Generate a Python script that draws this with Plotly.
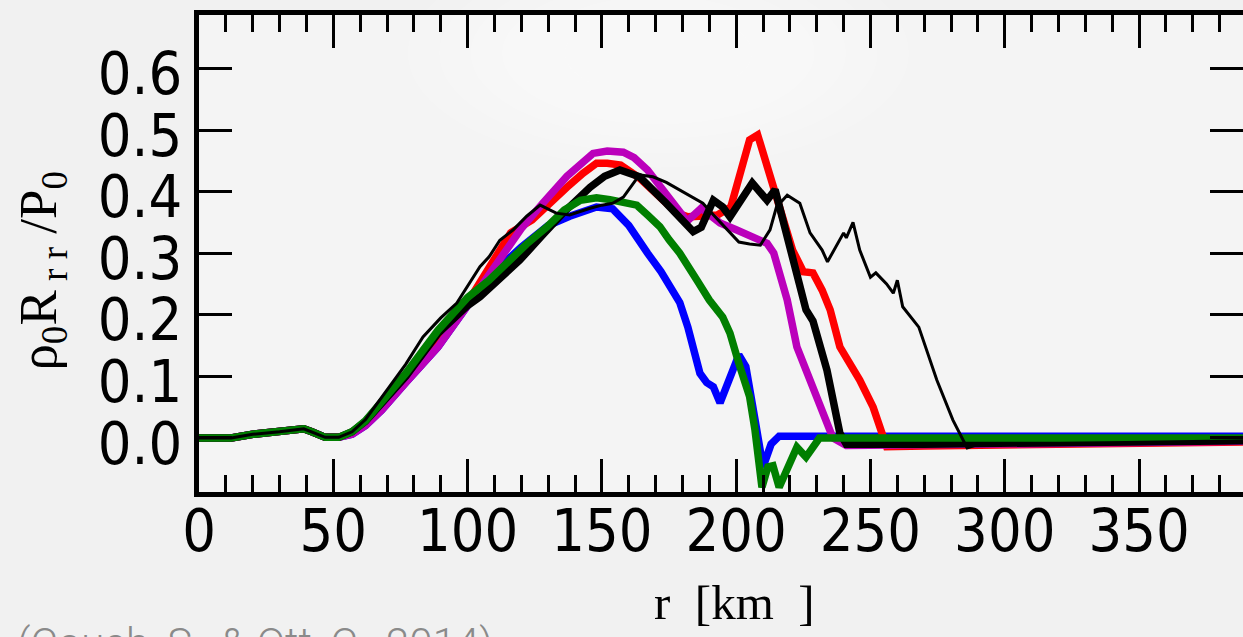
import plotly.graph_objects as go

# ---------------- data ----------------
blue_r = [0, 12, 20, 30, 39, 42, 47, 52, 57, 62, 68, 77, 89, 100, 110, 120, 130, 138, 148, 154, 160, 167,
          172, 179, 182, 186.5, 189, 191.5, 194, 201, 203.6, 207, 210, 213, 216, 230, 300, 395]
blue_y = [0, 0, 0.006, 0.01, 0.015, 0.01, 0.001, 0.001, 0.006, 0.02, 0.045, 0.09, 0.148, 0.215, 0.27, 0.31,
          0.345, 0.36, 0.375, 0.372, 0.345, 0.3, 0.27, 0.22, 0.18, 0.105, 0.09, 0.083, 0.057, 0.135, 0.116,
          0.03, -0.047, -0.01, 0.003, 0.003, 0.003, 0.003]

red_r = [0, 12, 20, 30, 39, 42, 47, 52, 57, 62, 68, 77, 89, 100, 110, 116, 124, 130, 137, 143, 148, 152, 157,
         164, 172, 178, 182, 188, 193, 198, 201, 205, 208, 212.6, 216, 221, 225, 228.6, 232, 235, 238.6, 242,
         246, 251, 256, 270, 320, 395]
red_y = [0, 0, 0.006, 0.01, 0.015, 0.01, 0.001, 0.001, 0.008, 0.024, 0.05, 0.095, 0.155, 0.22, 0.29, 0.333,
         0.354, 0.38, 0.407, 0.43, 0.446, 0.446, 0.443, 0.422, 0.391, 0.365, 0.359, 0.36, 0.362, 0.375, 0.419,
         0.484, 0.492, 0.424, 0.37, 0.305, 0.27, 0.268, 0.24, 0.208, 0.148, 0.125, 0.094, 0.05, -0.014, -0.013,
         -0.01, -0.006]

magenta_r = [0, 12, 20, 30, 39, 42, 47, 52, 57, 62, 68, 77, 89, 100, 110, 120, 128, 137, 146.7, 152, 158, 162,
             167, 172, 177, 181.7, 187, 194, 200, 207.7, 211.5, 214, 216, 219, 222.6, 228.6, 233, 236, 241, 270,
             320, 395]
magenta_y = [0, 0, 0.006, 0.01, 0.015, 0.01, 0.001, 0.001, 0.006, 0.02, 0.045, 0.09, 0.148, 0.215, 0.28, 0.34,
             0.381, 0.425, 0.462, 0.466, 0.464, 0.455, 0.435, 0.407, 0.375, 0.352, 0.373, 0.349, 0.338, 0.325,
             0.316, 0.3, 0.273, 0.224, 0.148, 0.078, 0.03, 0.0, -0.012, -0.012, -0.009, -0.005]

black_r = [0, 12, 20, 30, 39, 42, 47, 52, 57, 62, 68, 77, 89, 100, 104.6, 112, 119.5, 128, 135.5, 145.6, 151,
           156.7, 164, 174, 184, 187, 191.5, 195, 197.7, 206, 209, 211.5, 214.5, 219, 222.6, 226, 228.6, 233.8,
           238.6, 241, 270, 320, 395]
black_y = [0, 0, 0.006, 0.01, 0.015, 0.01, 0.001, 0.001, 0.01, 0.027, 0.055, 0.1, 0.17, 0.215, 0.229, 0.26,
           0.289, 0.33, 0.365, 0.407, 0.425, 0.435, 0.424, 0.381, 0.335, 0.342, 0.386, 0.375, 0.359, 0.414,
           0.398, 0.386, 0.403, 0.326, 0.273, 0.208, 0.19, 0.11, 0.008, -0.01, -0.01, -0.008, -0.004]

green_r = [0, 12, 20, 30, 39, 42, 47, 52, 57, 62, 68, 77, 89, 100, 108, 116, 122, 129.6, 136, 142, 148, 153,
           158, 163, 167, 171.6, 175, 179, 185.4, 190, 195, 197.7, 201, 205, 207, 209.6, 211.8, 213.7, 216, 219,
           222.6, 226, 231, 300, 395]
green_y = [0, 0, 0.006, 0.01, 0.015, 0.01, 0.001, 0.001, 0.01, 0.028, 0.058, 0.105, 0.175, 0.228, 0.256, 0.29,
           0.315, 0.343, 0.37, 0.386, 0.39, 0.387, 0.383, 0.378, 0.362, 0.343, 0.322, 0.3, 0.256, 0.224, 0.196,
           0.17, 0.121, 0.067, 0.013, -0.08, -0.047, -0.045, -0.08, -0.047, -0.015, -0.031, 0.0, 0.0, 0.0]

thin_r = [0, 12, 20, 30, 39, 42, 47, 52, 57, 62, 68, 72, 77, 83.4, 90, 96, 104.6, 108, 112, 117, 122, 127, 133,
          138, 145.6, 150, 154, 158, 164, 169, 174, 179, 184, 187.6, 192, 196.6, 201, 205, 209, 212.6, 215, 219,
          223.7, 227.5, 232, 234, 237, 240, 241, 243.5, 246, 250, 252, 256, 258.5, 260, 262, 268, 274.7, 280.7,
          286, 289.6, 320, 395]
thin_y = [0, 0, 0.006, 0.01, 0.015, 0.01, 0.001, 0.001, 0.01, 0.03, 0.065, 0.09, 0.12, 0.164, 0.195, 0.219,
          0.278, 0.294, 0.321, 0.338, 0.36, 0.378, 0.365, 0.362, 0.373, 0.378, 0.381, 0.391, 0.427, 0.424, 0.415,
          0.403, 0.391, 0.381, 0.36, 0.338, 0.318, 0.315, 0.313, 0.338, 0.375, 0.394, 0.381, 0.333, 0.305, 0.286,
          0.31, 0.333, 0.325, 0.35, 0.305, 0.261, 0.268, 0.25, 0.235, 0.256, 0.213, 0.18, 0.094, 0.029, -0.016,
          -0.011, -0.009, -0.004]

x_ticks = [0, 50, 100, 150, 200, 250, 300, 350]
y_ticks = [0.0, 0.1, 0.2, 0.3, 0.4, 0.5, 0.6]
y_ticklabels = ["0.0", "0.1", "0.2", "0.3", "0.4", "0.5", "0.6"]

# ---------------- figure ----------------
series = [
    (blue_r, blue_y, "#0000ff", 7.5),
    (red_r, red_y, "#ff0000", 7.5),
    (magenta_r, magenta_y, "#bb00bb", 7.5),
    (black_r, black_y, "#000000", 7.5),
    (green_r, green_y, "#007f00", 7.5),
    (thin_r, thin_y, "#000000", 3),
]

fig = go.Figure()
for r, y, c, w in series:
    fig.add_trace(go.Scatter(x=r, y=y, mode="lines", line=dict(color=c, width=w),
                             showlegend=False, hoverinfo="skip"))

tickfont = dict(family="Noto Sans Condensed, DejaVu Sans Condensed, sans-serif", size=59, color="black")

fig.update_xaxes(range=[0, 388.7], tickvals=x_ticks, ticktext=[str(v) for v in x_ticks],
                 ticks="inside", ticklen=33, tickwidth=3, tickcolor="black",
                 minor=dict(dtick=10, tick0=0, ticks="inside", ticklen=17, tickwidth=3, tickcolor="black",
                            showgrid=False),
                 showline=True, linewidth=5, linecolor="black", mirror="ticks",
                 showgrid=False, zeroline=False, tickfont=tickfont, ticklabelstandoff=-17)
fig.update_yaxes(range=[-0.0877, 0.6867], tickvals=y_ticks, ticktext=y_ticklabels,
                 ticks="inside", ticklen=33, tickwidth=3, tickcolor="black",
                 showline=True, linewidth=5, linecolor="black", mirror="ticks",
                 showgrid=False, zeroline=False, tickfont=tickfont, ticklabelshift=5)

# very soft whitish glow in the upper middle of the panel (lighting of the source image)
glow = [(0.24, 0.24), (0.21, 0.21), (0.18, 0.18), (0.15, 0.15), (0.12, 0.12), (0.09, 0.09)]
for rx, ry in glow:
    fig.add_shape(type="circle", xref="paper", yref="paper", x0=0.44 - rx, x1=0.44 + rx,
                  y0=0.92 - ry, y1=0.92 + ry, fillcolor="white", opacity=0.12, line=dict(width=0),
                  layer="below")

serif = "Liberation Serif, DejaVu Serif, serif"
fig.add_annotation(text="ρ<sub>0</sub>R<sub> r r</sub> /P<sub>0</sub>", xref="paper", yref="paper",
                   x=-0.15, y=0.465, xanchor="center", yanchor="middle", textangle=-90,
                   showarrow=False, font=dict(family=serif, size=53, color="black"))
fig.add_annotation(text="r\u00a0\u00a0[km\u00a0\u00a0]", xref="paper", yref="paper",
                   x=0.513, y=-0.232, xanchor="center", yanchor="middle",
                   showarrow=False, font=dict(family=serif, size=49, color="black"))
fig.add_annotation(text="(Couch, S., & Ott, C., 2014)", xref="paper", yref="paper",
                   x=-0.176, y=-0.262, xanchor="left", yanchor="top",
                   showarrow=False, font=dict(family="Roboto, sans-serif", size=42, weight=300,
                                              color="#8a8a8a"))

fig.update_layout(width=1243, height=637, margin=dict(l=199, r=0, t=15, b=145, autoexpand=False),
                  paper_bgcolor="#f1f1f1", plot_bgcolor="#f4f4f4")

fig.write_html("out.html", config={"displayModeBar": False},
               post_script="document.body.style.margin='0';"
                           "document.body.style.overflow='hidden';"
                           "document.body.style.background='#f1f1f1';")
